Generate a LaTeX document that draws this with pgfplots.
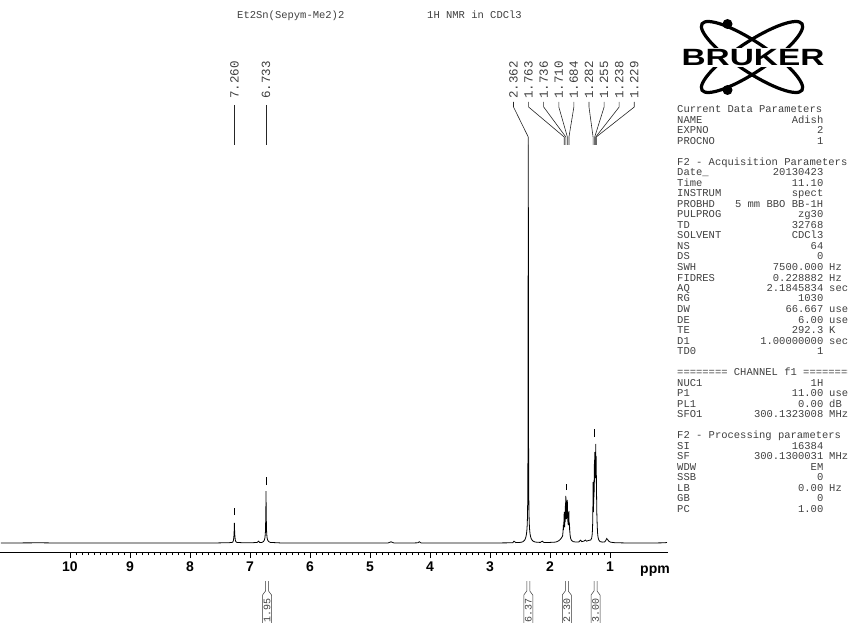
\documentclass[border=0pt]{standalone}
\usepackage{pgfplots}
\pgfplotsset{compat=1.18}
\usepackage{fontspec}
\setmainfont{Liberation Sans}
\newfontfamily\mono{Liberation Mono}
\definecolor{txt}{HTML}{404040}
\begin{document}
\begin{tikzpicture}[x=1pt,y=1pt]
\tikzset{plab/.style={rotate=90, anchor=west, inner sep=0pt, text=txt, font=\mono\fontsize{12.5}{12}\selectfont},
         conn/.style={black!85, line width=0.6pt}}
\begin{axis}[
  at={(0pt,70pt)}, anchor=south west,
  scale only axis, width=668pt, height=472pt,
  xmin=0.0333, xmax=11.1667, ymin=0, ymax=472,
  x dir=reverse,
  axis x line=bottom, axis y line=none,
  axis line style={-, black, line width=0.8pt},
  xtick={1,2,3,4,5,6,7,8,9,10}, minor x tick num=9,
  tick align=outside,
  major tick length=6pt, minor tick length=3pt,
  every tick/.style={black, line width=0.6pt},
  xticklabel style={font=\fontsize{14}{14}\selectfont\bfseries},
  /pgf/number format/assume math mode=true,
  clip=false,
]
\addplot[black, line width=0.8pt] coordinates {
(11.15,9) (10.8,9.1) (10.5,9.2) (10.2,9) (10.0,9) (9.7,9.1) (9.5,9.1) (9.2,9) (9.0,9) (8.7,9.1) (8.5,9) (8.2,9) (8.0,9.1) (7.8,9) (7.6,9) (7.45,9.2)
(7.35,9.3) (7.30,9.6) (7.285,10) (7.275,12) (7.268,16) (7.263,22) (7.260,29) (7.257,22) (7.252,16) (7.245,12) (7.235,10.3) (7.22,9.6)
(7.1,9.2) (6.95,9.3) (6.88,9.6) (6.86,10.8) (6.84,9.6)
(6.80,9.6) (6.775,10.5) (6.76,12) (6.75,14.5) (6.743,20) (6.738,32) (6.735,45) (6.733,61) (6.731,45) (6.728,32) (6.723,20) (6.716,14.5) (6.706,12) (6.69,10.5) (6.66,9.6)
(6.5,9.1) (6.2,9) (6.0,9.1) (5.7,9) (5.5,9) (5.2,9.1) (5.0,9) (4.7,9) (4.65,10.2) (4.6,9) (4.3,9) (4.2,9.2) (4.18,10.3) (4.15,9.1) (4.0,9) (3.7,9) (3.5,9.1) (3.2,9) (3.0,9) (2.8,9.1) (2.65,9.2)
(2.62,9.3) (2.60,10.8) (2.57,9.4)
(2.50,9.6) (2.46,10) (2.44,10.8) (2.42,12) (2.41,13.5) (2.40,15.5) (2.392,18) (2.385,22) (2.379,28) (2.374,38) (2.370,60) (2.367,110) (2.365,200) (2.3635,330) (2.362,407) (2.3605,330) (2.359,200) (2.357,110) (2.354,60) (2.350,38) (2.345,28) (2.339,22) (2.332,18) (2.324,15.5) (2.314,13.5) (2.30,12) (2.28,10.8) (2.25,10) (2.2,9.7)
(2.16,9.6) (2.13,10.8) (2.10,9.5) (2.0,9.6) (1.93,9.8)
(1.90,10) (1.86,11) (1.83,12.5) (1.81,14) (1.80,15)
(1.790,16) (1.785,19) (1.781,23) (1.777,27) (1.774,22) (1.771,30) (1.768,26) (1.765,36) (1.763,40) (1.760,28) (1.757,33) (1.754,25) (1.751,38) (1.748,30) (1.745,46) (1.742,35) (1.739,50) (1.736,56) (1.733,38) (1.730,45) (1.727,33) (1.724,48) (1.721,36) (1.718,51) (1.715,40) (1.712,52) (1.710,49) (1.707,34) (1.704,40) (1.701,28) (1.698,36) (1.695,27) (1.692,33) (1.689,30) (1.686,38) (1.684,41) (1.681,27) (1.678,30) (1.675,22) (1.672,25) (1.668,19) (1.663,16) (1.655,13.5) (1.645,12) (1.63,11) (1.61,10.3)
(1.57,10) (1.52,10) (1.49,11.8) (1.47,10.4) (1.43,11) (1.41,12) (1.39,10.8) (1.36,11.5) (1.34,11.8)
(1.32,12) (1.305,14) (1.298,17) (1.292,22) (1.288,30) (1.285,45) (1.282,70) (1.279,52) (1.276,40) (1.273,58) (1.270,48) (1.267,72) (1.264,60) (1.261,88) (1.258,70) (1.255,100) (1.252,78) (1.249,92) (1.246,74) (1.243,98) (1.240,82) (1.238,108) (1.235,90) (1.232,96) (1.229,92) (1.226,62) (1.223,55) (1.220,40) (1.216,32) (1.212,25) (1.207,19) (1.200,15) (1.19,12.5) (1.175,11) (1.16,10.3)
(1.12,9.9) (1.09,10) (1.07,11.5) (1.055,13.5) (1.04,12.5) (1.02,10.8) (0.99,9.8) (0.92,9.3) (0.85,9.2) (0.7,9) (0.5,9.1) (0.3,9) (0.1,9.2) (0.05,9.5)
};
% peak-picking marks
\addplot[black, line width=0.6pt] coordinates {(7.26,37) (7.26,44)};
\addplot[black, line width=0.6pt] coordinates {(6.733,67) (6.733,75)};
\addplot[black, line width=0.6pt] coordinates {(1.72,62) (1.72,68)};
\addplot[black, line width=0.6pt] coordinates {(1.26,115) (1.26,123)};
% peak labels
\node[plab] at (axis cs:7.26,453) {7.260};
\node[plab] at (axis cs:6.733,453) {6.733};
\draw[conn] (axis cs:7.26,447) -- (axis cs:7.26,407);
\draw[conn] (axis cs:6.733,447) -- (axis cs:6.733,407);
\node[plab] at (axis cs:2.608,453) {2.362};
\node[plab] at (axis cs:2.357,453) {1.763};
\node[plab] at (axis cs:2.105,453) {1.736};
\node[plab] at (axis cs:1.853,453) {1.710};
\node[plab] at (axis cs:1.602,453) {1.684};
\node[plab] at (axis cs:1.350,453) {1.282};
\node[plab] at (axis cs:1.098,453) {1.255};
\node[plab] at (axis cs:0.847,453) {1.238};
\node[plab] at (axis cs:0.595,453) {1.229};
\draw[conn] (axis cs:2.608,450) -- (axis cs:2.608,445) -- (axis cs:2.362,415) -- (axis cs:2.362,407);
\draw[conn] (axis cs:2.357,450) -- (axis cs:2.357,445) -- (axis cs:1.763,415) -- (axis cs:1.763,407);
\draw[conn] (axis cs:2.105,450) -- (axis cs:2.105,445) -- (axis cs:1.736,415) -- (axis cs:1.736,407);
\draw[conn] (axis cs:1.853,450) -- (axis cs:1.853,445) -- (axis cs:1.710,415) -- (axis cs:1.710,407);
\draw[conn] (axis cs:1.602,450) -- (axis cs:1.602,445) -- (axis cs:1.684,415) -- (axis cs:1.684,407);
\draw[conn] (axis cs:1.350,450) -- (axis cs:1.350,445) -- (axis cs:1.282,415) -- (axis cs:1.282,407);
\draw[conn] (axis cs:1.098,450) -- (axis cs:1.098,445) -- (axis cs:1.255,415) -- (axis cs:1.255,407);
\draw[conn] (axis cs:0.847,450) -- (axis cs:0.847,445) -- (axis cs:1.238,415) -- (axis cs:1.238,407);
\draw[conn] (axis cs:0.595,450) -- (axis cs:0.595,445) -- (axis cs:1.229,415) -- (axis cs:1.229,407);
\end{axis}
% ppm label
\node[font=\fontsize{14}{14}\selectfont\bfseries] at (655,51) {ppm};
% integral brackets
\foreach \X/\T in {267/1.95, 528.3/6.37, 566.8/2.30, 595.5/3.00}{
  \draw[black!80, line width=0.5pt] (\X-1.5,41) -- (\X-1.5,31) -- (\X-4.5,27) -- (\X-4.5,-10);
  \draw[black!80, line width=0.5pt] (\X+1.5,41) -- (\X+1.5,31) -- (\X+4.5,27) -- (\X+4.5,-10);
  \node[rotate=90, anchor=east, inner sep=0pt, text=txt, font=\mono\fontsize{10}{10}\selectfont] at (\X,24) {\T};
}
% title
\node[anchor=base west, inner sep=0pt, text=txt, font=\mono\fontsize{10.5}{10.5}\selectfont] at (237,603) {Et2Sn(Sepym-Me2)2};
\node[anchor=base west, inner sep=0pt, text=txt, font=\mono\fontsize{10.5}{10.5}\selectfont] at (427,603) {1H NMR in CDCl3};
% Bruker logo
\draw[black, line width=3.2pt, rotate around={-33.6:(752,565)}] (752,565) ellipse (60 and 15);
\draw[black, line width=3.2pt, rotate around={33.6:(752,565)}] (752,565) ellipse (60 and 15);
\fill[black] (727.5,598) circle (5);
\fill[black] (727.5,532) circle (5);
\node[fill=white, inner sep=1pt, xscale=1.42, font=\fontsize{23.5}{24}\selectfont\bfseries] at (753,564.5) {BRUKER};
% parameters
\tikzset{pn/.style={anchor=base west, inner sep=0pt, text=txt, font=\mono\fontsize{10.5}{10.5}\selectfont},
         pv/.style={anchor=base east, inner sep=0pt, text=txt, font=\mono\fontsize{10.5}{10.5}\selectfont}}
\foreach \i/\N/\V/\U in {
 1/NAME/Adish/, 2/EXPNO/2/, 3/PROCNO/1/,
 6/Date\_/20130423/, 7/Time/11.10/, 8/INSTRUM/spect/, 9/PROBHD/5 mm BBO BB-1H/, 10/PULPROG/zg30/, 11/TD/32768/, 12/SOLVENT/CDCl3/, 13/NS/64/, 14/DS/0/, 15/SWH/7500.000/Hz, 16/FIDRES/0.228882/Hz, 17/AQ/2.1845834/sec, 18/RG/1030/, 19/DW/66.667/usec, 20/DE/6.00/usec, 21/TE/292.3/K, 22/D1/1.00000000/sec, 23/TD0/1/,
 26/NUC1/1H/, 27/P1/11.00/usec, 28/PL1/0.00/dB, 29/SFO1/300.1323008/MHz,
 32/SI/16384/, 33/SF/300.1300031/MHz, 34/WDW/EM/, 35/SSB/0/, 36/LB/0.00/Hz, 37/GB/0/, 38/PC/1.00/}{
  \pgfmathsetmacro{\yy}{509-10.5*\i}
  \node[pn] at (677,\yy) {\N};
  \node[pv] at (823.5,\yy) {\V};
  \node[pn] at (829,\yy) {\U};
}
\node[pn] at (677,509) {Current Data Parameters};
\pgfmathsetmacro{\yy}{509-10.5*5}
\node[pn] at (677,\yy) {F2 - Acquisition Parameters};
\pgfmathsetmacro{\yy}{509-10.5*25}
\node[pn] at (677,\yy) {======== CHANNEL f1 ========};
\pgfmathsetmacro{\yy}{509-10.5*31}
\node[pn] at (677,\yy) {F2 - Processing parameters};
\pgfresetboundingbox
\path[use as bounding box] (0,0) rectangle (848,622);
\end{tikzpicture}
\end{document}
